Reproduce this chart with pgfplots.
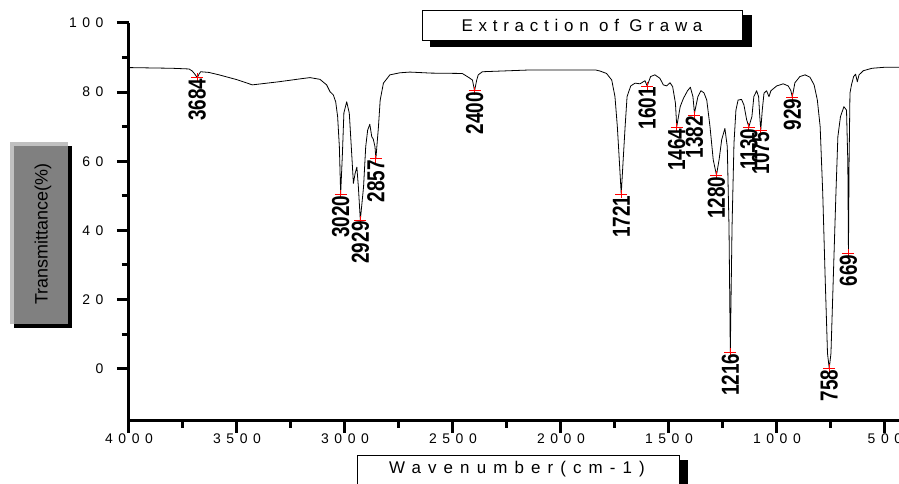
\documentclass[border=0pt]{standalone}
\usepackage{fontspec}
\setmainfont{Liberation Sans}
\newfontfamily\tickfont[LetterSpace=40]{Liberation Sans}
\newfontfamily\titlefont[LetterSpace=34]{Liberation Sans}
\newfontfamily\xlabfont[LetterSpace=42]{Liberation Sans}
\usepackage{pgfplots}
\pgfplotsset{compat=1.18}

\definecolor{boxgray}{RGB}{128,128,128}
\definecolor{bevelgray}{RGB}{192,192,192}

% peak positions
\pgfplotstableread{
w t lab
3684 84.3 3684
3020 50.5 3020
2929 43.0 2929
2857 60.7 2857
2400 80.4 2400
1721 50.5 1721
1601 81.8 1601
1464 69.8 1464
1382 73.4 1382
1280 56.0 1280
1216 4.7 1216
1130 69.8 1130
1075 68.8 1075
929 78.5 929
758 0.1 758
669 33.4 669
}\peaks

\begin{document}
\begin{tikzpicture}
\begin{axis}[
  at={(0,0)}, anchor=south west,
  scale only axis, width=770bp, height=397.5bp,
  x dir=reverse,
  xmin=435, xmax=4000, ymin=-15, ymax=100,
  axis lines*=left,
  axis line style={line width=3bp, black},
  x axis line style={line width=3bp},
  y axis line style={line width=3bp},
  xtick={500,1000,...,4000},
  ytick={0,20,...,100},
  minor x tick num=1, minor y tick num=1,
  tick align=outside,
  major tick length=12bp, minor tick length=7bp,
  tick style={line width=3bp, black},
  major tick style={line width=3bp},
  minor tick style={line width=3bp},
  /pgf/number format/assume math mode=true,
  /pgf/number format/1000 sep={},
  ticklabel style={font=\tickfont\fontsize{14}{16}\selectfont},
  yticklabel style={xshift=-10bp},
  xticklabel style={yshift=2bp},
]
\addplot[black, line width=0.8bp, line join=round] table {
4000 87.1
3900 87.0
3800 86.9
3722 86.7
3707 86.1
3695 85.2
3684 84.2
3675 85.3
3668 85.9
3630 85.7
3583 85.0
3500 83.6
3429 82.1
3306 83.0
3200 83.9
3162 84.2
3116 83.7
3085 82.1
3069 80.1
3054 79.2
3043 77.2
3034 72.9
3026 64.2
3020 50.5
3012 62
3005 74
2992 77.2
2980 73.9
2969 62.3
2961 53.6
2953 56.5
2945 58.3
2938 52.6
2929 43.0
2914 52.6
2904 64.2
2895 69.0
2885 70.7
2876 67.1
2869 66.4
2861 64.2
2857 60.7
2845 70
2837 77.7
2822 82.6
2792 85.0
2745 85.6
2699 85.8
2600 85.5
2457 85.4
2426 84.2
2410 83.5
2400 80.4
2390 83.5
2383 85
2364 85.9
2148 86.4
1839 86.4
1819 86.1
1789 85.4
1765 83.5
1750 78.7
1739 70
1730 60.4
1721 50.5
1712 60.4
1703 70
1694 78.7
1677 81.8
1657 82.6
1634 82.4
1611 83.3
1601 81.8
1585 84.5
1565 85.0
1542 84.0
1526 82.1
1511 81.8
1495 82.7
1483 81.6
1470 76.8
1464 70.0
1448 75.8
1433 78.2
1414 80.4
1401 81.4
1389 78.7
1382 73.9
1366 78.7
1352 80.4
1338 79.8
1325 77.7
1310 70
1295 60.4
1280 56.0
1268 60.4
1256 66.2
1241 69.5
1230 64.2
1222 41
1216 4.7
1208 41
1199 65.2
1190 74.8
1180 77.7
1164 77.9
1153 76.3
1140 71.9
1130 70.0
1116 72.9
1107 78.7
1094 80.4
1085 78.7
1080 73.4
1075 69.0
1068 74.8
1060 79.7
1048 80.4
1037 78.7
1028 80.4
1001 81.8
971 82.4
948 81.8
936 80.5
929 78.6
917 82.7
894 84.5
870 85.0
847 84.3
828 82.1
813 77.7
800 70
788 50.7
777 26.6
766 4.4
758 0.1
750 4.4
739 26.6
727 50.7
718 67.1
706 72.9
690 75.8
678 74.8
672 60
669 33.4
666 60
662 79.7
655 82.1
645 84.5
636 85.2
628 83.0
620 85.0
600 86.2
560 86.9
500 87.2
435 87.2
};
\addplot[only marks, mark=+, red, mark size=4bp,
  mark options={xscale=1.5, line width=0.8bp},
  nodes near coords, point meta=explicit symbolic,
  every node near coord/.append style={rotate=90, yscale=1.3, anchor=east, inner sep=1bp,
    text=black, font=\bfseries\fontsize{19}{21}\selectfont},
] table[x=w, y=t, meta=lab] {\peaks};
\end{axis}

\begin{scope}[x=1bp, y=-1bp, shift={(-129bp,420.5bp)}]
  % title box
  \fill[black] (430,15) rectangle (752,47);
  \filldraw[fill=white, draw=black, line width=0.8bp] (422,10) rectangle (742,40);
  \node[font=\titlefont\fontsize{17}{19}\selectfont] at (582,25) {Extraction of Grawa};
  % y label box
  \fill[black] (14,146) rectangle (72,328);
  \fill[bevelgray] (10,142) rectangle (68,324);
  \fill[boxgray] (14,146) rectangle (68,324);
  \node[rotate=90, font=\fontsize{18}{20}\selectfont] at (43,234) {Transmittance(\%)};
  % x label box
  \fill[black] (366,460) rectangle (688,500);
  \filldraw[fill=white, draw=black, line width=0.8bp] (357,455) rectangle (679,495);
  \node[font=\xlabfont\fontsize{17}{19}\selectfont] at (517,469) {Wavenumber(cm-1)};
\end{scope}

\pgfresetboundingbox
\useasboundingbox (-129bp,-63.5bp) rectangle (770bp,420.5bp);
\end{tikzpicture}
\end{document}
